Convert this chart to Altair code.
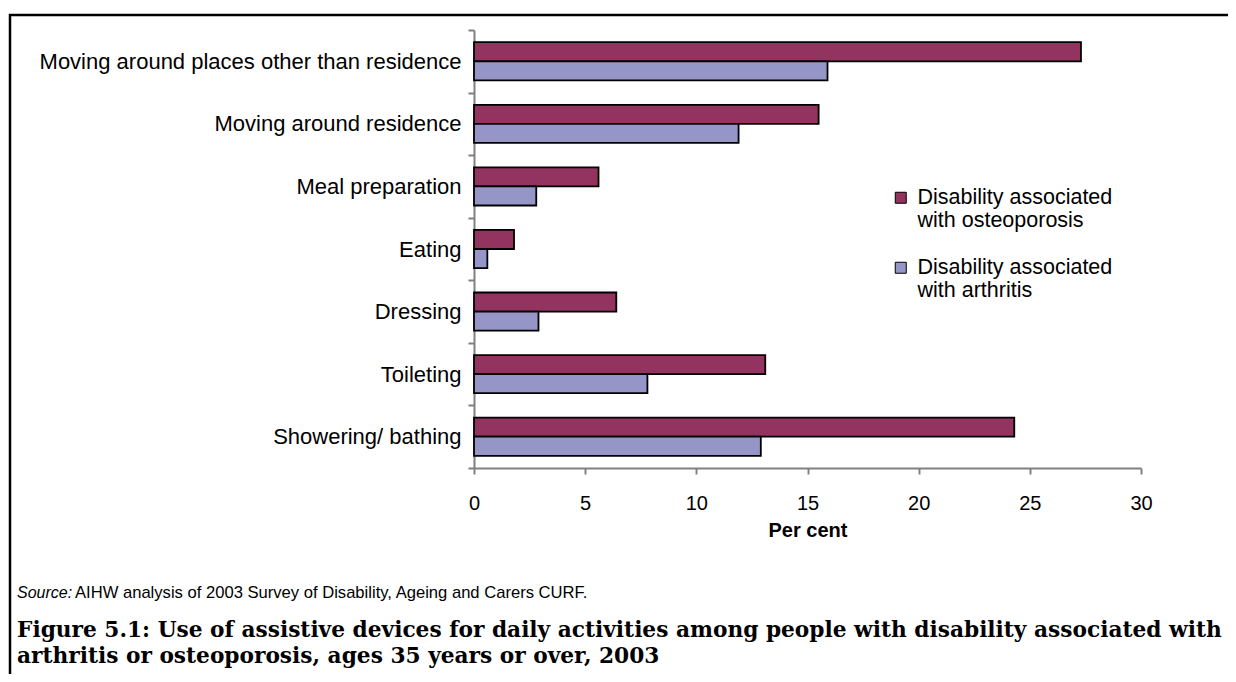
import altair as alt
import pandas as pd

categories = [
    "Moving around places other than residence",
    "Moving around residence",
    "Meal preparation",
    "Eating",
    "Dressing",
    "Toileting",
    "Showering/ bathing",
]
series = ["Disability associated\nwith osteoporosis", "Disability associated\nwith arthritis"]
osteoporosis = [27.3, 15.5, 5.6, 1.8, 6.4, 13.1, 24.3]
arthritis = [15.9, 11.9, 2.8, 0.6, 2.9, 7.8, 12.9]
colors = ["#933360", "#9595C8"]
x_ticks = [0, 5, 10, 15, 20, 25, 30]

source_label = "Source:"
source_text = "AIHW analysis of 2003 Survey of Disability, Ageing and Carers CURF."
caption_1 = "Figure 5.1: Use of assistive devices for daily activities among people with disability associated with"
caption_2 = "arthritis or osteoporosis, ages 35 years or over, 2003"

rows = []
for i, c in enumerate(categories):
    rows.append({"activity": c, "series": series[0], "value": osteoporosis[i]})
    rows.append({"activity": c, "series": series[1], "value": arthritis[i]})
df = pd.DataFrame(rows)

FONT = "Liberation Sans"

bars = alt.Chart(df).mark_bar(stroke="black", strokeWidth=1.8).encode(
    y=alt.Y("activity:N", sort=categories,
            scale=alt.Scale(paddingInner=0, paddingOuter=0),
            axis=alt.Axis(title=None, tickBand="extent", tickSize=6, labelPadding=7,
                          labelFontSize=22, labelColor="black", labelFont=FONT,
                          domainColor="#808080", tickColor="#808080",
                          domainWidth=2, tickWidth=2, labelLimit=0)),
    yOffset=alt.YOffset("series:N", sort=series,
                        scale=alt.Scale(paddingInner=0, paddingOuter=0.64)),
    x=alt.X("value:Q", scale=alt.Scale(domain=[0, 30], nice=False),
            axis=alt.Axis(title="Per cent", values=x_ticks, tickSize=6, labelPadding=19,
                          labelFontSize=20, labelColor="black", labelFont=FONT,
                          labelFlush=False,
                          titleFont=FONT, titleFontSize=20, titleFontWeight="bold",
                          titleColor="black", titlePadding=7, grid=False,
                          domainColor="#808080", tickColor="#808080",
                          domainWidth=2, tickWidth=2)),
    color=alt.Color("series:N", sort=series,
                    scale=alt.Scale(domain=series, range=colors),
                    legend=alt.Legend(title=None, orient="none", legendX=416, legendY=157,
                                      symbolType="square", symbolSize=121,
                                      symbolStrokeColor="black", symbolStrokeWidth=1,
                                      labelFont=FONT, labelFontSize=21.5, labelColor="black",
                                      labelLimit=0, labelOffset=6, rowPadding=24,
                                      labelExpr="split(datum.label, '\\n')")),
)

one = pd.DataFrame([{"k": 1}])

border = alt.Chart(one).mark_rect(filled=False, stroke="black", strokeWidth=2.5).encode(
    x=alt.value(-464), x2=alt.value(900), y=alt.value(-15), y2=alt.value(900)
)

src_lbl = alt.Chart(one).mark_text(align="left", baseline="middle", font=FONT, fontSize=16,
                                   fontStyle="italic", color="black").encode(
    x=alt.value(-457), y=alt.value(563), text=alt.value(source_label)
)
src_txt = alt.Chart(one).mark_text(align="left", baseline="middle", font=FONT, fontSize=16.6,
                                   color="black").encode(
    x=alt.value(-399), y=alt.value(563), text=alt.value(source_text)
)
cap1 = alt.Chart(one).mark_text(align="left", baseline="middle", font="DejaVu Serif", fontSize=21.7,
                                fontWeight="bold", color="black").encode(
    x=alt.value(-457), y=alt.value(600), text=alt.value(caption_1)
)
cap2 = alt.Chart(one).mark_text(align="left", baseline="middle", font="DejaVu Serif", fontSize=21.7,
                                fontWeight="bold", color="black").encode(
    x=alt.value(-457), y=alt.value(626), text=alt.value(caption_2)
)

chart = alt.layer(bars, border, src_lbl, src_txt, cap1, cap2).properties(
    width=667, height=438,
    background="white",
    autosize=alt.AutoSizeParams(type="none"),
    padding={"left": 466, "top": 22, "right": 87, "bottom": 206},
).configure_view(strokeWidth=0, stroke="transparent")

chart.save("out.html", embed_options={"renderer": "svg", "actions": False})
